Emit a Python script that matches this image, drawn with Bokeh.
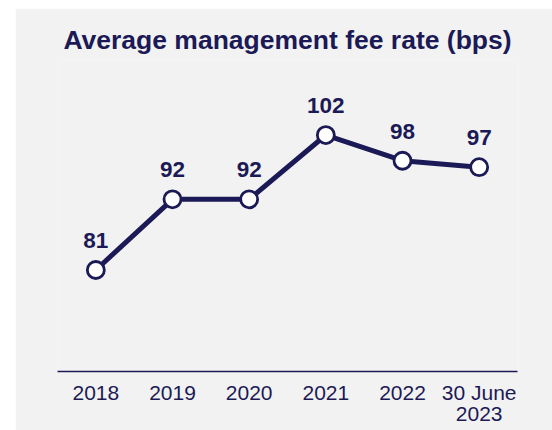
from bokeh.plotting import figure
from bokeh.models import ColumnDataSource, Range1d, FactorRange, LabelSet, Spacer
from bokeh.layouts import row, column
from bokeh.core.properties import value
from bokeh.embed import file_html
from bokeh.resources import INLINE

categories = ["2018", "2019", "2020", "2021", "2022", "30 June\n2023"]
values = [81, 92, 92, 102, 98, 97]
labels = ["81", "92", "92", "102", "98", "97"]

NAVY = "#1c1a56"
BG = "#f2f2f2"
FONT = "Liberation Sans"

src = ColumnDataSource(dict(x=categories, y=values, lab=labels))

p = figure(width=537, height=422, output_backend="svg", toolbar_location=None,
           x_range=FactorRange(*categories, range_padding=0),
           y_range=Range1d(65.2, 113.6),
           min_border_left=42, min_border_right=35, min_border_top=52, min_border_bottom=59)
p.x_range.factor_padding = 0
p.background_fill_color = BG
p.border_fill_color = BG
p.outline_line_color = None
p.grid.visible = False
p.yaxis.visible = False

p.title.text = "Average management fee rate (bps)"
p.title.text_font = FONT
p.title.text_font_size = "26.5px"
p.title.text_font_style = "bold"
p.title.text_color = NAVY
p.title.align = "center"
p.title.standoff = 11

xa = p.xaxis[0]
xa.axis_line_color = NAVY
xa.axis_line_width = 1.6
xa.major_tick_line_color = None
xa.minor_tick_line_color = None
xa.major_label_text_font = FONT
xa.major_label_text_font_size = "21px"
xa.major_label_text_line_height = 0.95
xa.major_label_text_color = NAVY
xa.major_label_standoff = 3

p.line("x", "y", source=src, line_color=NAVY, line_width=5)
p.scatter("x", "y", source=src, size=17, fill_color="white", line_color=NAVY, line_width=2.8)

p.add_layout(LabelSet(x="x", y="y", text="lab", source=src, y_offset=22,
                      text_align="center", text_baseline="alphabetic",
                      text_font=value(FONT), text_font_size=value("22.5px"),
                      text_font_style="bold", text_color=NAVY))

layout = column(Spacer(height=8, width=10),
                row(Spacer(width=15, height=10), p, spacing=0),
                spacing=0)
open("out.html", "w").write(file_html(layout, INLINE))
